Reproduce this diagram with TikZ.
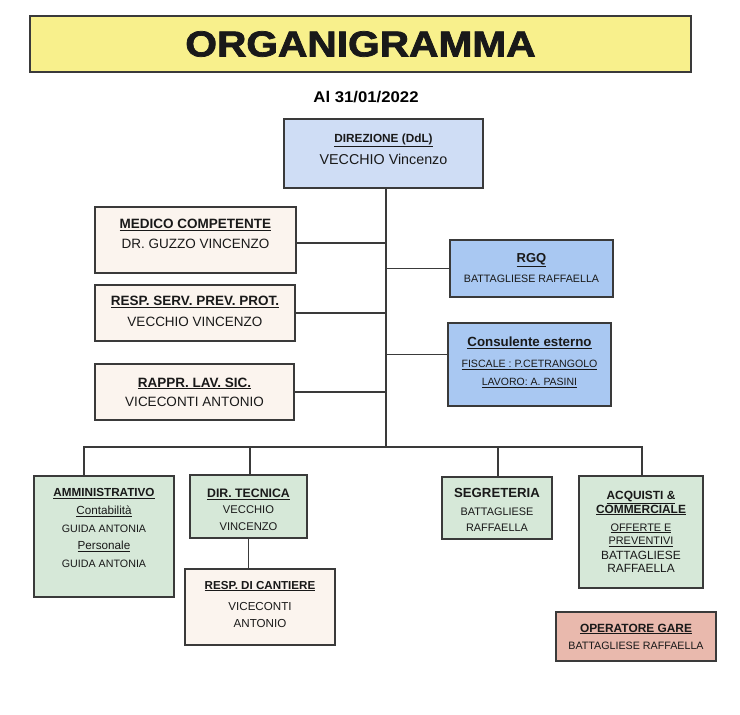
\documentclass[tikz,border=0pt]{standalone}
\usepackage{fontspec}
\setmainfont{Liberation Sans}
\newfontface\titlefont{Liberation Sans Bold}[FakeBold=2]
\definecolor{ttlyel}{HTML}{F8F08C}
\definecolor{dirblue}{HTML}{CFDDF5}
\definecolor{midblue}{HTML}{A9C8F2}
\definecolor{beige}{HTML}{FBF4EE}
\definecolor{pgreen}{HTML}{D6E8D8}
\definecolor{pink}{HTML}{E9B9AD}
\definecolor{edge}{HTML}{3A3A3A}
\tikzset{
  box/.style={draw=edge, line width=1.2pt, align=center, inner sep=0pt, text=black!90},
  conn/.style={draw=edge, line width=1.3pt},
}
\newcommand{\ul}[1]{\underline{#1}}
\newcommand{\fs}[2]{\fontsize{#1}{#2}\selectfont}
\begin{document}
\begin{tikzpicture}[x=1pt,y=-1pt]
\useasboundingbox (0,0) rectangle (740,715);
\fill[white] (0,0) rectangle (740,715);

% title
\node[box, fill=ttlyel, minimum width=661pt, minimum height=56pt] (title) at (360.5,44)
  {\titlefont\fs{36}{40}\scalebox{1.13}[1]{ORGANIGRAMMA}};
\node[font=\bfseries\fs{15.5}{16}, inner sep=0pt] (date) at (366,97) {\scalebox{1.08}[1]{Al 31/01/2022}};

% direzione
\node[box, fill=dirblue, minimum width=199pt, minimum height=69pt, font=\fs{12}{12}] (dir) at (383.5,153.5)
  {\bfseries\fs{11.8}{14}\ul{DIREZIONE (DdL)}\\[6pt]
   \mdseries\fs{14.3}{16}VECCHIO Vincenzo\\[-3pt]\mbox{}};

% left column
\node[box, fill=beige, minimum width=201pt, minimum height=66pt,
  font=\fs{13.5}{20}] (med) at (195.5,240)
  {\textbf{\ul{MEDICO COMPETENTE}}\\ DR. GUZZO VINCENZO\\[-8pt]\mbox{}};
\node[box, fill=beige, minimum width=200pt, minimum height=56pt,
  font=\fs{13.5}{21}] (rspp) at (195,313)
  {\textbf{\ul{RESP. SERV. PREV. PROT.}}\\ VECCHIO VINCENZO\\[-17pt]\mbox{}};
\node[box, fill=beige, minimum width=199pt, minimum height=56pt,
  font=\fs{13.5}{19}] (rls) at (194.5,392)
  {\textbf{\ul{RAPPR. LAV. SIC.}}\\ VICECONTI ANTONIO};

% right column
\node[box, fill=midblue, minimum width=163pt, minimum height=57pt, font=\fs{12}{12}] (rgq) at (531.5,268.5)
  {\bfseries\fs{13}{15}\ul{RGQ}\\[7pt]
   \mdseries\fs{10.7}{13}BATTAGLIESE RAFFAELLA\\[-10pt]\mbox{}};
\node[box, fill=midblue, minimum width=163pt, minimum height=83pt,
  font=\fs{10.5}{18}] (cons) at (529.5,364.5)
  {\bfseries\fs{13.3}{15}\ul{Consulente esterno}\\[3pt]
   \fs{10.6}{18}\ul{FISCALE : P.CETRANGOLO}\\
   \ul{LAVORO: A. PASINI}\\[-11pt]\mbox{}};

% bottom row
\node[box, fill=pgreen, minimum width=140pt, minimum height=121pt,
  font=\fs{10.7}{17.7}] (amm) at (104,536.5)
  {\textbf{\fs{11.7}{17.7}\ul{AMMINISTRATIVO}}\\
   \textmd{\fs{11.7}{17.7}\ul{Contabilità}}\\
   GUIDA ANTONIA\\
   \textmd{\fs{11.7}{17.7}\ul{Personale}}\\
   GUIDA ANTONIA\\[-1pt]\mbox{}};
\node[box, fill=pgreen, minimum width=117pt, minimum height=63pt,
  font=\fs{11.2}{16.5}] (dirt) at (248.5,506.5)
  {\textbf{\fs{12.3}{16.5}\ul{DIR. TECNICA}}\\ VECCHIO\\ VINCENZO\\[-22.5pt]\mbox{}};
\node[box, fill=beige, minimum width=150pt, minimum height=76pt,
  font=\fs{11.6}{17}] (rc) at (260,607)
  {\textbf{\ul{RESP. DI CANTIERE}}\\[4pt] VICECONTI\\ ANTONIO\\[-11pt]\mbox{}};
\node[box, fill=pgreen, minimum width=110pt, minimum height=62pt,
  font=\fs{10.9}{16}] (segr) at (497,508)
  {\textbf{\fs{13.2}{16}SEGRETERIA}\\[2pt] BATTAGLIESE\\ RAFFAELLA\\[-20pt]\mbox{}};
\node[box, fill=pgreen, minimum width=124pt, minimum height=112pt,
  font=\fs{11.9}{13.5}] (acq) at (641,532)
  {\textbf{\ul{ACQUISTI \&}}\\ \textbf{\ul{COMMERCIALE}}\\[4.5pt]
   \textmd{\fs{10.9}{13.5}\ul{OFFERTE E}}\\ \textmd{\fs{10.9}{13.5}\ul{PREVENTIVI}}\\[1pt]
   BATTAGLIESE\\ RAFFAELLA};
\node[box, fill=pink, minimum width=160pt, minimum height=49pt, font=\fs{12}{12}] (opg) at (636,636.5)
  {\bfseries\fs{11.9}{14}\ul{OPERATORE GARE}\\[5pt]
   \mdseries\fs{10.7}{13}BATTAGLIESE RAFFAELLA};

% connectors
\coordinate (busc) at (386,447);
\coordinate (bL) at (84,447);
\coordinate (bR) at (642,447);
\draw[conn] (dir.south -| busc) -- (busc);
\draw[conn] ([yshift=-3pt]med.east) -- ([yshift=-3pt]med.east -| busc);
\draw[conn] (rspp.east) -- (rspp.east -| busc);
\draw[conn] (rls.east) -- (rls.east -| busc);
\draw[conn] (rgq.west) -- (rgq.west -| busc);
\draw[conn] ([yshift=10pt]cons.west) -- ([yshift=10pt]cons.west -| busc);
\draw[conn] (amm.north -| bL) -- (bL) -- (bR) -- (bR |- acq.north);
\draw[conn] ([xshift=1.5pt]dirt.north) -- ([xshift=1.5pt]dirt.north |- bL);
\draw[conn] ([xshift=1pt]segr.north) -- ([xshift=1pt]segr.north |- bL);
\draw[conn] (dirt.south) -- (dirt.south |- rc.north);
\end{tikzpicture}
\end{document}
